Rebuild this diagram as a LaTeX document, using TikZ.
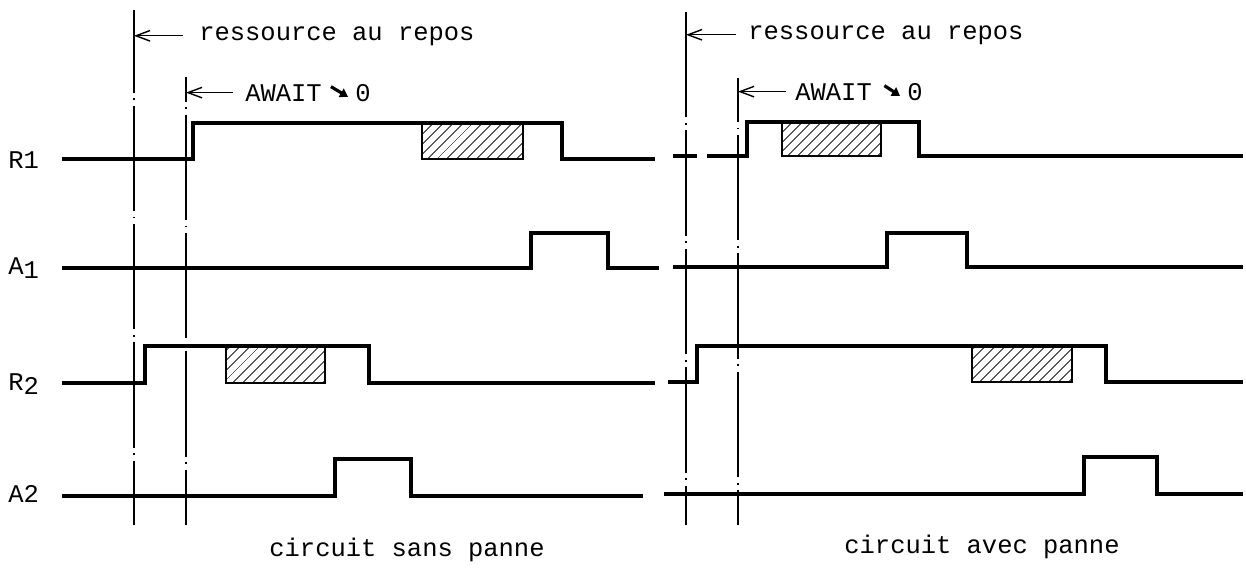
\documentclass[tikz,border=0pt]{standalone}
\usepackage{fontspec}
\setmonofont{Liberation Mono}
\usetikzlibrary{arrows.meta,patterns.meta}
\newcommand{\bas}[1]{\lower2pt\hbox{#1}}
\begin{document}
\begin{tikzpicture}[x=0.02cm,y=-0.02cm,
        >={Straight Barb[length=8pt,width=6pt]},
        signal/.style={line width=1.9pt,line join=miter},
        axe/.style={line width=1pt,dash pattern=on 60pt off 3.2pt on 1pt off 3.2pt},
        panne/.style={draw,line width=0.7pt,pattern={Lines[angle=45,distance=4pt,line width=0.5pt]}},
        lbl/.style={font=\ttfamily\fontsize{14.5}{17}\selectfont,inner sep=0pt},
        fleche/.style={line width=1.8pt,-{Triangle[length=4.5pt,width=5.5pt]}}]
    \useasboundingbox(0,0)rectangle(1246,586);

    % axes verticaux
    \foreach \n/\x/\y/\p in {t1/134/10/13pt,t2/186/77/46pt,t3/686/12/0pt,t4/738/78/35pt}
        {
            \coordinate(\n)at(\x,\y);
            \coordinate(b\n)at(\x,525);
            \draw[axe,dash phase=\p](\n)--(b\n);
        }

    % noms des signaux
    \node[lbl,anchor=west](nR1)at(8,160){R1};
    \node[lbl,anchor=west](nA1)at(8,268){A\bas{1}};
    \node[lbl,anchor=west](nR2)at(8,384){R\bas{2}};
    \node[lbl,anchor=west](nA2)at(8,494){A2};

    % circuit sans panne
    \draw[panne](422,123)rectangle(523,159);
    \draw[panne](226,346)rectangle(325,383);
    \draw[signal](62,159)--(193,159)--(193,123)--(562,123)--(562,159)--(655,159);
    \draw[signal](62,268)--(531,268)--(531,233)--(608,233)--(608,268)--(659,268);
    \draw[signal](62,383)--(145,383)--(145,346)--(369,346)--(369,383)--(655,383);
    \draw[signal](62,496)--(335,496)--(335,459)--(411,459)--(411,496)--(643,496);

    \node[lbl,anchor=base west](repos1)at(199,40){ressource au repos};
    \draw[->,line width=0.8pt]([xshift=-9pt]repos1.west)--(repos1.west-|t1);
    \node[lbl,anchor=base west](await1)at(245,101){AWAIT};
    \node[lbl,anchor=base west](zero1)at(355,101){0};
    \draw[->,line width=0.8pt]([xshift=-7pt]await1.west)--(await1.west-|t2);
    \draw[fleche]([xshift=5pt,yshift=3.4pt]await1.east)--([xshift=-4pt,yshift=-2.4pt]zero1.west);

    \node[lbl](titre1)at(407,550){circuit sans panne};

    % circuit avec panne
    \draw[panne](782,122)rectangle(881,156);
    \draw[panne](972,346)rectangle(1072,382);
    \draw[signal](673,156)--(697,156)(707,156)--(747,156)--(747,122)--(919,122)--(919,156)--(1243,156);
    \draw[signal](673,267)--(887,267)--(887,233)--(967,233)--(967,267)--(1243,267);
    \draw[signal](668,382)--(697,382)--(697,346)--(1106,346)--(1106,382)--(1243,382);
    \draw[signal](664,494)--(1084,494)--(1084,457)--(1157,457)--(1157,494)--(1243,494);

    \node[lbl,anchor=base west](repos2)at(748,39){ressource au repos};
    \draw[->,line width=0.8pt]([xshift=-7pt]repos2.west)--(repos2.west-|t3);
    \node[lbl,anchor=base west](await2)at(795,100){AWAIT};
    \node[lbl,anchor=base west](zero2)at(907,100){0};
    \draw[->,line width=0.8pt]([xshift=-5pt]await2.west)--(await2.west-|t4);
    \draw[fleche]([xshift=7pt,yshift=3.4pt]await2.east)--([xshift=-4pt,yshift=-2.4pt]zero2.west);

    \node[lbl](titre2)at(982,547){circuit avec panne};
\end{tikzpicture}
\end{document}
